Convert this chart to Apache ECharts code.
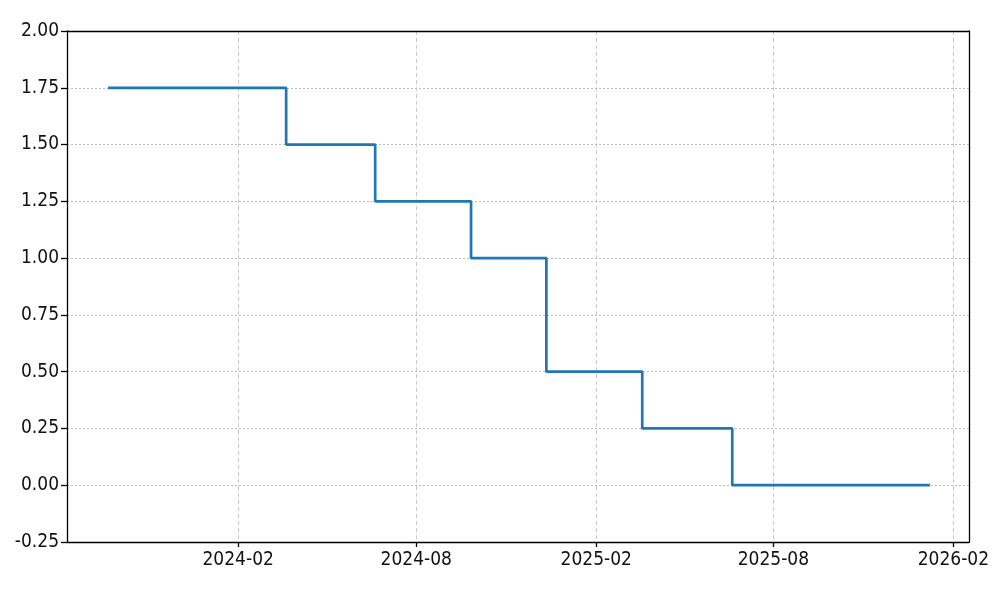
<!DOCTYPE html>
<html>
<head>
<meta charset="utf-8">
<script src="https://cdn.jsdelivr.net/npm/echarts@6/dist/echarts.min.js"></script>
<style>
html,body{margin:0;padding:0;background:#fff;}
#chart{width:1000px;height:600px;}
</style>
</head>
<body>
<div id="chart"></div>
<script>
// Policy rate change dates and values
var dates = ['2023-09-21','2024-03-21','2024-06-20','2024-09-26','2024-12-12','2025-03-20','2025-06-20','2026-01-08'];
var rates = [1.75, 1.50, 1.25, 1.00, 0.50, 0.25, 0.00, 0.00];
var xTicks = ['2024-02-01','2024-08-01','2025-02-01','2025-08-01','2026-02-01'];
var yTicks = [-0.25, 0.00, 0.25, 0.50, 0.75, 1.00, 1.25, 1.50, 1.75, 2.00];

function ts(s){ var p=s.split('-'); return Date.UTC(+p[0], +p[1]-1, +p[2]); }
var seriesData = dates.map(function(d,i){ return [ts(d), rates[i]]; });
var xTickVals = xTicks.map(ts);
var xMin = ts('2023-08-10'), xMax = ts('2026-02-17');

var font = '"DejaVu Sans Condensed", "DejaVu Sans", sans-serif';
var chart = echarts.init(document.getElementById('chart'), null, {renderer:'canvas'});
var frameLine = {show:true, onZero:false, lineStyle:{color:'#000', width:1.3}};
chart.setOption({
  animation:false,
  backgroundColor:'#fff',
  grid:{left:67, right:31, top:31, bottom:58, show:false},
  xAxis:[{
    type:'value',
    min: xMin, max: xMax,
    axisLine:frameLine,
    axisTick:{show:true, length:5, lineStyle:{color:'#000', width:1.3}, customValues:xTickVals},
    axisLabel:{customValues:xTickVals, color:'#111', fontFamily:font, fontSize:19, margin:9,
      formatter:function(v){ var d=new Date(v); var m=d.getUTCMonth()+1; return d.getUTCFullYear()+'-'+(m<10?'0'+m:m);} },
    splitLine:{show:true, lineStyle:{color:'#c8c8c8', type:[4,3], width:1}}
  },{
    type:'value', position:'top', min:xMin, max:xMax, z:5,
    axisLine:frameLine, axisTick:{show:false}, axisLabel:{show:false}, splitLine:{show:false}
  }],
  yAxis:[{
    type:'value', min:-0.25, max:2.0, interval:0.25,
    axisLine:frameLine,
    axisTick:{show:true, length:6, lineStyle:{color:'#000', width:1.3}},
    axisLabel:{customValues:yTicks, color:'#111', fontFamily:font, fontSize:19, margin:8, formatter:function(v){return v.toFixed(2);}},
    splitLine:{show:true, lineStyle:{color:'#aaaaaa', type:[2,2], width:0.8}}
  },{
    type:'value', position:'right', min:-0.25, max:2.0, interval:0.25, z:5,
    axisLine:frameLine, axisTick:{show:false}, axisLabel:{show:false}, splitLine:{show:false}
  }],
  series:[{
    type:'line', step:'end', data:seriesData, showSymbol:false, symbol:'none',
    lineStyle:{color:'#1f77b4', width:2.7}
  }]
});
</script>
</body>
</html>
